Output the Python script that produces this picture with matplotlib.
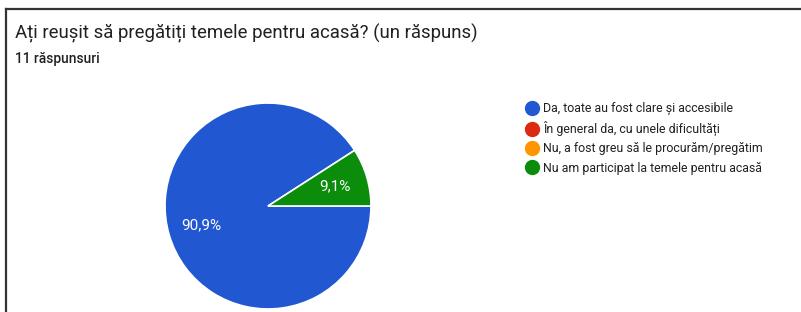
import matplotlib
matplotlib.use("Agg")
import matplotlib.pyplot as plt
from matplotlib.lines import Line2D

plt.rcParams['font.family'] = ['Roboto', 'DejaVu Sans']

title = "Ați reușit să pregătiți temele pentru acasă? (un răspuns)"
subtitle = "11 răspunsuri"
categories = [
    "Da, toate au fost clare și accesibile",
    "În general da, cu unele dificultăți",
    "Nu, a fost greu să le procurăm/pregătim",
    "Nu am participat la temele pentru acasă",
]
counts = [10, 0, 0, 1]
colors = ["#2157d1", "#dc2a12", "#ff9500", "#0b8c0b"]

W, H = 801, 312
fig = plt.figure(figsize=(W / 100, H / 100), dpi=100)
fig.patch.set_facecolor("white")

# frame lines (top and left)
fig.add_artist(Line2D([5.5 / W, 5.5 / W], [0, 1 - 9 / H], color="#333333", lw=1.6))
fig.add_artist(Line2D([5.5 / W, 1], [1 - 9 / H, 1 - 9 / H], color="#333333", lw=1.6))

fig.text(15 / W, 1 - 33 / H, title, fontsize=13.4, color="#202124", va="center", ha="left")
fig.text(15 / W, 1 - 59 / H, subtitle, fontsize=9.9, fontweight="medium",
         color="#202124", va="center", ha="left")

cx, cy, r = 268, 206, 104
ax = fig.add_axes([(cx - r) / W, (H - cy - r) / H, 2 * r / W, 2 * r / H])
nz = [(c, col) for c, col in zip(counts, colors) if c > 0]
vals = [c for c, _ in nz]
cols = [col for _, col in nz]
total = sum(counts)
start = 360 * counts[-1] / total

def fmt(p):
    return f"{p:.1f}%".replace(".", ",")

wedges, texts, autotexts = ax.pie(
    vals, colors=cols, startangle=start, counterclock=True,
    autopct=fmt, pctdistance=0.68,
    wedgeprops=dict(edgecolor="white", linewidth=1.2),
    textprops=dict(color="white", fontsize=11),
)
ax.set_xlim(-1.01, 1.01)
ax.set_ylim(-1.01, 1.01)
ax.set_aspect("equal")
ax.axis("off")

handles = [Line2D([], [], marker="o", linestyle="none", markersize=10,
                  markerfacecolor=c, markeredgecolor=c) for c in colors]
fig.legend(handles, categories, loc="upper left",
           bbox_to_anchor=(525 / W, 1 - 102 / H), frameon=False,
           fontsize=8.9, handletextpad=0.35, labelspacing=0.5,
           handlelength=1.1, borderaxespad=0, borderpad=0,
           labelcolor="#202124")

fig.savefig("out.png", dpi=100)
